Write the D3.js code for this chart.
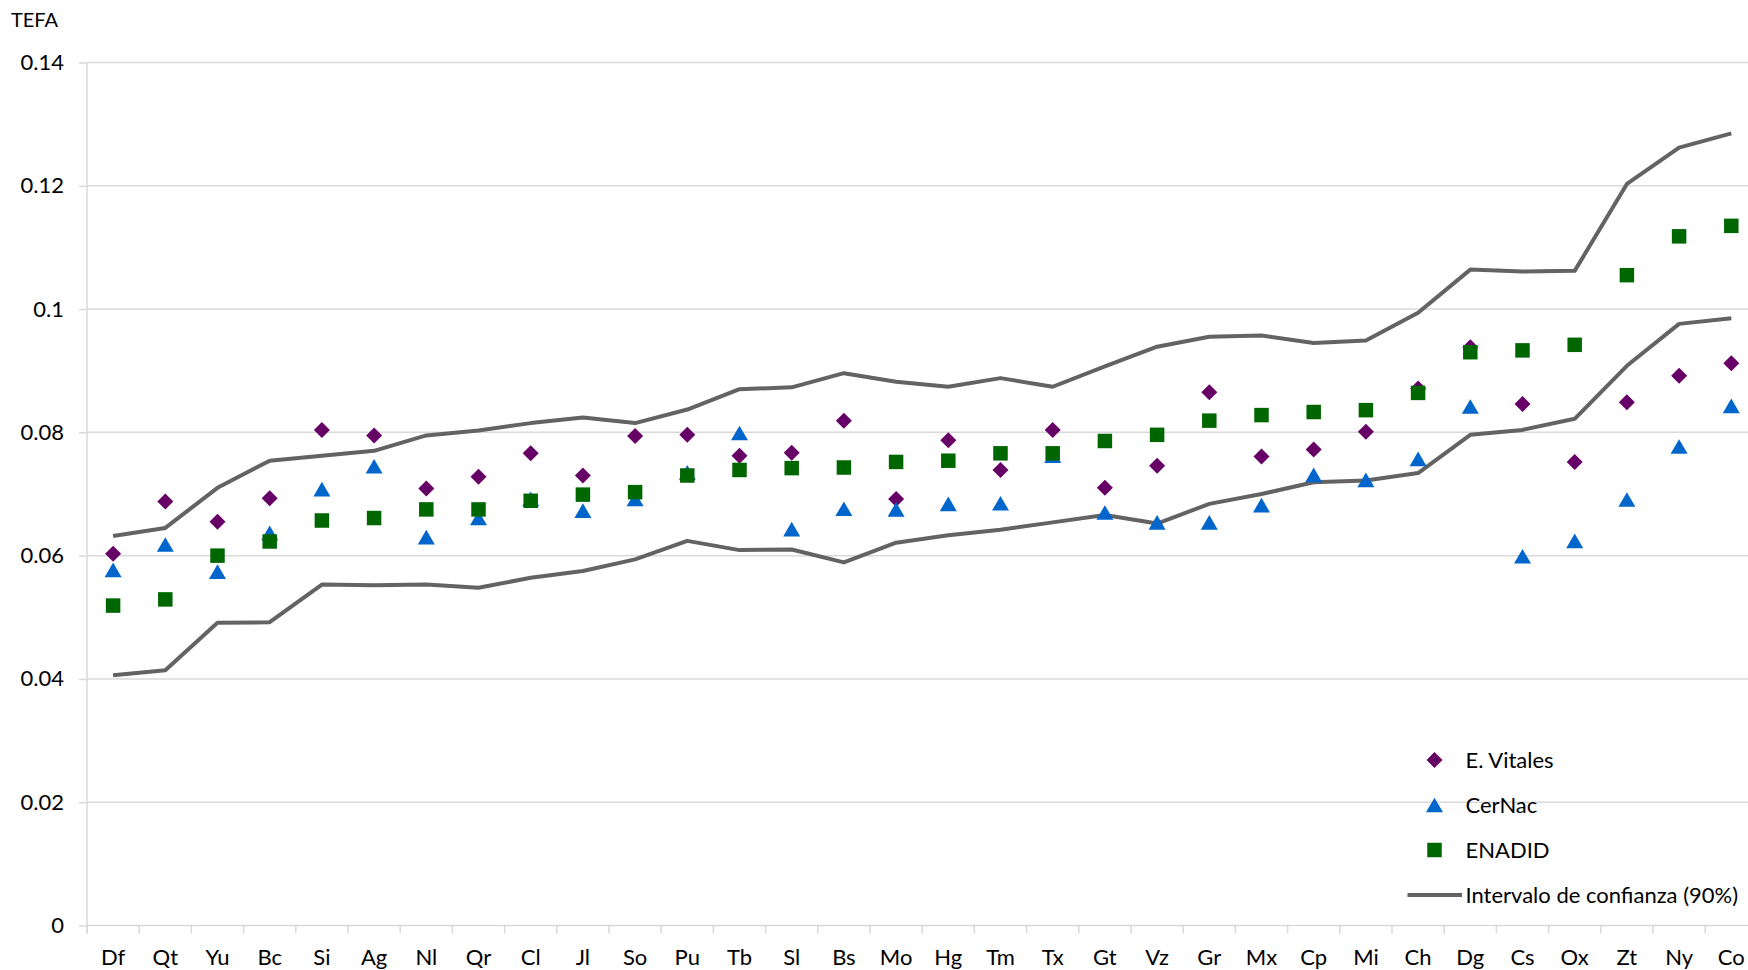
<!DOCTYPE html>
<html><head><meta charset="utf-8">
<script src="https://cdn.jsdelivr.net/npm/d3@7"></script>
<style>
html,body{margin:0;padding:0;background:#fff;}
svg text{font-family:Lato,"Open Sans",sans-serif;fill:#000;}
</style></head>
<body><svg id="c" width="1748" height="970"></svg>
<script>
const categories = ["Df","Qt","Yu","Bc","Si","Ag","Nl","Qr","Cl","Jl","So","Pu","Tb","Sl","Bs","Mo","Hg","Tm","Tx","Gt","Vz","Gr","Mx","Cp","Mi","Ch","Dg","Cs","Ox","Zt","Ny","Co"];
const vitales = [0.0603,0.0688,0.0655,0.0693,0.0804,0.0795,0.0709,0.0728,0.0766,0.0730,0.0794,0.0796,0.0762,0.0767,0.0819,0.0692,0.0787,0.0739,0.0804,0.0710,0.0746,0.0865,0.0761,0.0772,0.0801,0.0871,0.0938,0.0846,0.0752,0.0849,0.0892,0.0912];
const cernac = [0.0577,0.0618,0.0574,0.0637,0.0708,0.0745,0.0630,0.0661,0.0692,0.0673,0.0692,0.0735,0.0799,0.0643,0.0676,0.0675,0.0684,0.0685,0.0762,0.0670,0.0654,0.0654,0.0682,0.0731,0.0723,0.0757,0.0842,0.0599,0.0624,0.0691,0.0777,0.0843];
const enadid = [0.0519,0.0529,0.0600,0.0623,0.0657,0.0661,0.0675,0.0675,0.0689,0.0699,0.0703,0.0730,0.0739,0.0742,0.0743,0.0752,0.0754,0.0766,0.0766,0.0786,0.0796,0.0819,0.0828,0.0833,0.0836,0.0864,0.0930,0.0933,0.0942,0.1055,0.1118,0.1135];
const ciUpper = [0.0632,0.0645,0.0710,0.0754,0.0762,0.0770,0.0795,0.0803,0.0815,0.0824,0.0815,0.0837,0.0870,0.0873,0.0896,0.0882,0.0874,0.0888,0.0874,0.0907,0.0939,0.0955,0.0957,0.0945,0.0949,0.0994,0.1064,0.1061,0.1062,0.1203,0.1262,0.1285];
const ciLower = [0.0406,0.0414,0.0491,0.0492,0.0553,0.0552,0.0553,0.0548,0.0564,0.0575,0.0594,0.0624,0.0609,0.0610,0.0589,0.0621,0.0633,0.0642,0.0654,0.0666,0.0652,0.0684,0.0700,0.0719,0.0722,0.0734,0.0796,0.0804,0.0822,0.0908,0.0976,0.0985];
const yTicks = [0,0.02,0.04,0.06,0.08,0.1,0.12,0.14];
const seriesNames = ["E. Vitales","CerNac","ENADID","Intervalo de confianza (90%)"];

const colV = "#660066", colC = "#0066cc", colE = "#006600", colLine = "#636363", colGrid = "#d9d9d9";
const svg = d3.select("#c");
const left = 87, band = 52.2;
const x = d3.scaleBand().domain(categories).range([left, left + band*categories.length]).padding(0);
const y = d3.scaleLinear().domain([0,0.14]).range([925.5, 62.5]);
const W = 1748;

// gridlines + y axis labels
const yAxis = d3.axisLeft(y).tickValues(yTicks).tickSize(8).tickPadding(15)
  .tickFormat(d => d === 0 ? "0" : String(+d.toFixed(2)));
const gy = svg.append("g").attr("transform", `translate(${left},0)`).call(yAxis);
gy.select(".domain").remove();
gy.selectAll(".tick line").attr("stroke", colGrid).attr("stroke-width", 1.5);
gy.selectAll(".tick text").attr("font-size", 22).attr("fill", "#000");
svg.append("g").selectAll("line").data(yTicks).join("line")
  .attr("x1", left).attr("x2", W).attr("y1", d => y(d)).attr("y2", d => y(d))
  .attr("stroke", colGrid).attr("stroke-width", 1.5);
// y axis line
svg.append("line").attr("x1", left).attr("x2", left).attr("y1", y(0.14)).attr("y2", y(0) + 8)
  .attr("stroke", colGrid).attr("stroke-width", 1.5);

// x axis labels
const xAxis = d3.axisBottom(x).tickSize(0).tickPadding(24);
const gx = svg.append("g").attr("transform", `translate(0,${y(0)})`).call(xAxis);
gx.select(".domain").remove();
gx.selectAll(".tick text").attr("font-size", 22).attr("fill", "#000");
// boundary tick marks
svg.append("g").selectAll("line").data(categories).join("line")
  .attr("x1", d => x(d)).attr("x2", d => x(d)).attr("y1", y(0)).attr("y2", y(0) + 8)
  .attr("stroke", colGrid).attr("stroke-width", 1.5);

// TEFA title
svg.append("text").attr("x", 11).attr("y", 27).attr("font-size", 20).text("TEFA");

// CI lines
const line = d3.line().x((d,i) => x(categories[i]) + x.bandwidth()/2).y(d => y(d));
[ciUpper, ciLower].forEach(arr => {
  svg.append("path").datum(arr).attr("d", line).attr("fill", "none")
    .attr("stroke", colLine).attr("stroke-width", 4).attr("stroke-linejoin", "round");
});

// symbols
const diamond = { draw(ctx, size){ const r = Math.sqrt(size)/2*Math.SQRT2; ctx.moveTo(0,-r); ctx.lineTo(r,0); ctx.lineTo(0,r); ctx.lineTo(-r,0); ctx.closePath(); } };
const triangle = { draw(ctx, size){ const w = Math.sqrt(size); const h = w*0.86; ctx.moveTo(0,-h/2); ctx.lineTo(w/2,h/2); ctx.lineTo(-w/2,h/2); ctx.closePath(); } };
const square = { draw(ctx, size){ const s = Math.sqrt(size)/2; ctx.rect(-s,-s,2*s,2*s); } };

function drawSeries(arr, type, size, color){
  svg.append("g").selectAll("path").data(arr).join("path")
    .attr("transform", (d,i) => `translate(${x(categories[i]) + x.bandwidth()/2},${y(d)})`)
    .attr("d", d3.symbol().type(type).size(size)).attr("fill", color);
}
drawSeries(vitales, diamond, 128, colV);
drawSeries(cernac, triangle, 289, colC);
drawSeries(enadid, square, 210, colE);

// legend
const lg = svg.append("g");
const lx = 1434.5, tx = 1465.5, rows = [760, 805, 850, 895];
lg.append("path").attr("transform", `translate(${lx},${rows[0]})`).attr("d", d3.symbol().type(diamond).size(128)).attr("fill", colV);
lg.append("path").attr("transform", `translate(${lx},${rows[1]})`).attr("d", d3.symbol().type(triangle).size(289)).attr("fill", colC);
lg.append("path").attr("transform", `translate(${lx},${rows[2]})`).attr("d", d3.symbol().type(square).size(210)).attr("fill", colE);
lg.append("line").attr("x1", 1407.5).attr("x2", 1462).attr("y1", rows[3]).attr("y2", rows[3]).attr("stroke", colLine).attr("stroke-width", 4);
lg.selectAll("text").data(seriesNames).join("text")
  .attr("x", tx).attr("y", (d,i) => rows[i]).attr("dy", "0.35em").attr("font-size", 22).text(d => d);
</script></body></html>
